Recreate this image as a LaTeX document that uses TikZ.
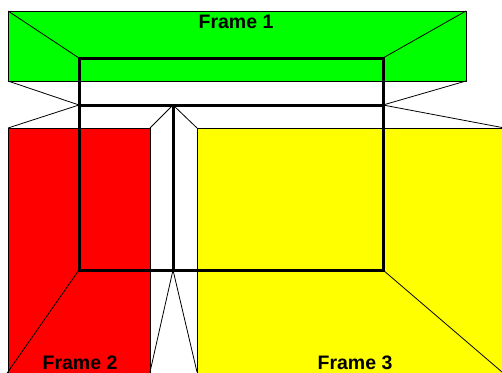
\documentclass[tikz,border=0pt]{standalone}
\usepackage{fontspec}
\setmainfont{Liberation Sans}
\begin{document}
\begin{tikzpicture}[x=1pt,y=-1pt,
  thinline/.style={draw=black,line width=0.8pt},
  thickline/.style={draw=black,line width=3pt},
  lbl/.style={font=\bfseries\fontsize{19.5}{22}\selectfont,inner sep=0pt,anchor=base}]
\useasboundingbox (0,0) rectangle (502,372);
\clip (0,0) rectangle (502,372);
% corners
\coordinate (gTL) at (8,11);
\coordinate (gTR) at (466,11);
\coordinate (gBL) at (8,81);
\coordinate (gBR) at (466,81);
\coordinate (iTL) at (79,58);
\coordinate (iTR) at (383,58);
\coordinate (iML) at (79,105);
\coordinate (iMR) at (383,105);
\coordinate (iMC) at (173,105);
\coordinate (iBL) at (79,270);
\coordinate (iBR) at (383,270);
\coordinate (iBC) at (173,270);
\coordinate (rTL) at (8,128);
\coordinate (rTR) at (150,128);
\coordinate (rBL) at (8,380);
\coordinate (rBR) at (150,380);
\coordinate (yTL) at (197,128);
\coordinate (yTR) at (520,128);
\coordinate (yBL) at (197,380);
\coordinate (yBR) at (520,380);
% faces
\path[thinline,fill={rgb,255:red,0;green,255;blue,0}] (gTL) rectangle (gBR);
\path[thinline,fill={rgb,255:red,255;green,0;blue,0}] (rTL) rectangle (rBR);
\path[thinline,fill={rgb,255:red,255;green,255;blue,0}] (yTL) rectangle (yBR);
% perspective lines
\draw[thinline] (gTL) -- (iTL);
\draw[thinline] (gTR) -- (iTR);
\draw[thinline] (gBL) -- (iML) -- (rTL);
\draw[thinline] (gBR) -- (iMR) -- (502,127.5);
\draw[thinline] (rTR) -- (iMC) -- (yTL);
\draw[thinline] (iBL) -- (6.5,374);
\draw[thinline] (iBC) -- (150,372);
\draw[thinline] (iBC) -- (197,372);
\draw[thinline] (iBR) -- (502,372);
% thick frame
\draw[thickline] (iTL) rectangle (iBR);
\draw[thickline] (iML) -- (iMR);
\draw[thickline] (iMC) -- (iBC);
% labels
\node[lbl] (f1) at (236,28.5) {Frame 1};
\node[lbl] (f2) at (80,369.5) {Frame 2};
\node[lbl] (f3) at (355,369.5) {Frame 3};
\end{tikzpicture}
\end{document}
